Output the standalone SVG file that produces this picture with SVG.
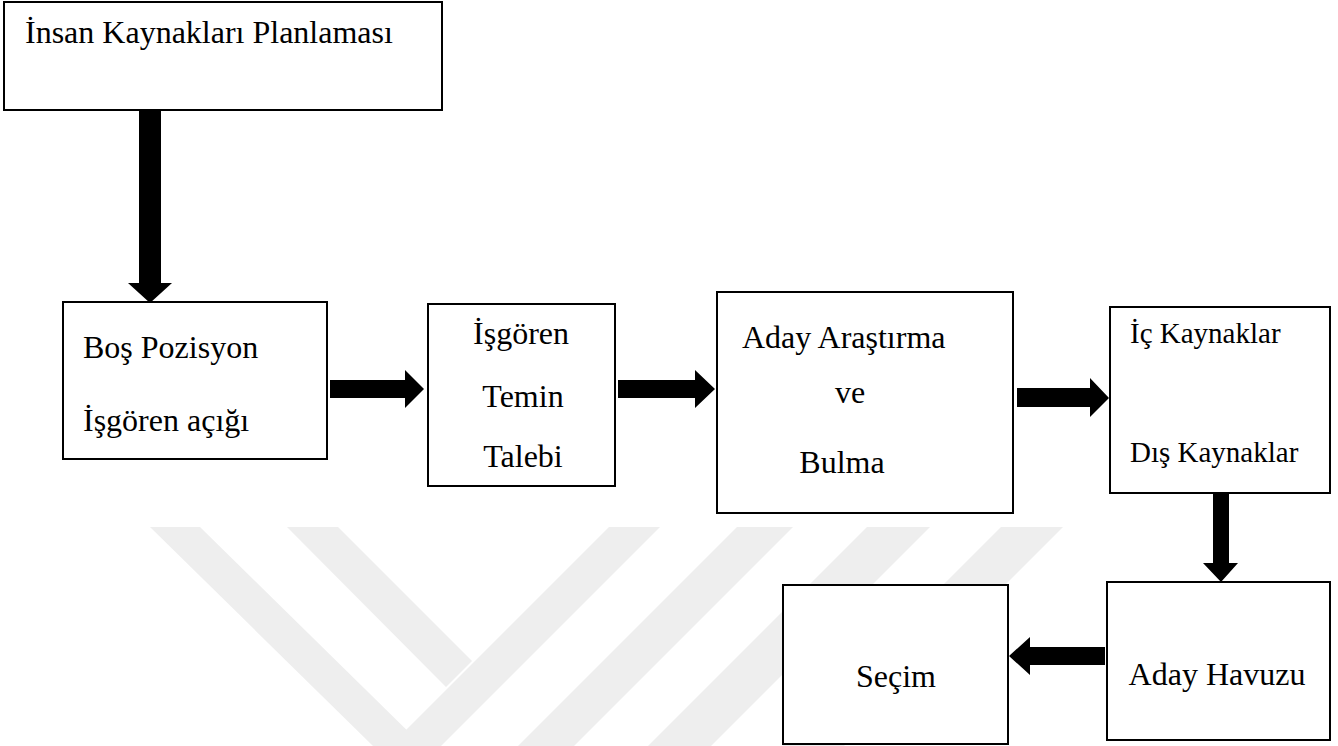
<svg xmlns="http://www.w3.org/2000/svg" width="1338" height="746" viewBox="0 0 1338 746">
  <style>
    .box { fill: #ffffff; stroke: #000000; stroke-width: 2; }
    .lbl { font-family: "Liberation Serif", "Times New Roman", serif; font-size: 32px; fill: #000000; }
    .sm { font-size: 29px; }
    .mid { text-anchor: middle; }
    .arrow { fill: #000000; }
    .wm { fill: #eeeeee; }
  </style>

  <rect x="0" y="0" width="1338" height="746" fill="#ffffff"/>

  <!-- faint diagonal background emblem -->
  <g id="emblem">
    <polygon class="wm" points="150,527 200,527 423,746 373,746"/>
    <polygon class="wm" points="287,527 338,527 472,661 446,687"/>
    <polygon class="wm" points="609,527 660,527 441,746 390,746"/>
    <polygon class="wm" points="737,527 793,527 574,746 518,746"/>
    <polygon class="wm" points="867,527 930,527 711,746 648,746"/>
    <polygon class="wm" points="1001,527 1063,527 844,746 782,746"/>
  </g>

  <!-- block arrows between the steps -->
  <g id="connectors">
    <!-- planning -> vacancy (down) -->
    <polygon class="arrow" points="139,111 161,111 161,283 172,283 150,303 128,283 139,283"/>
    <!-- vacancy -> request -->
    <polygon class="arrow" points="330,380 405,380 405,370 424,389 405,408 405,398 330,398"/>
    <!-- request -> search -->
    <polygon class="arrow" points="618,380 695,380 695,370 715,389 695,408 695,398 618,398"/>
    <!-- search -> sources -->
    <polygon class="arrow" points="1017,388 1090,388 1090,378 1109,398 1090,417 1090,407 1017,407"/>
    <!-- sources -> pool (down) -->
    <polygon class="arrow" points="1213,493 1229,493 1229,563 1238,563 1221,582 1203,563 1213,563"/>
    <!-- pool -> selection (left) -->
    <polygon class="arrow" points="1105,647 1030,647 1030,637 1009,656 1030,675 1030,665 1105,665"/>
  </g>

  <g id="node-planlama">
    <rect class="box" x="4" y="2" width="438" height="108"/>
    <text class="lbl" x="25" y="43">İnsan Kaynakları Planlaması</text>
  </g>

  <g id="node-bos-pozisyon">
    <rect class="box" x="63" y="302" width="264" height="157"/>
    <text class="lbl" x="83" y="358">Boş Pozisyon</text>
    <text class="lbl" x="83" y="431">İşgören açığı</text>
  </g>

  <g id="node-temin-talebi">
    <rect class="box" x="428" y="304" width="187" height="182"/>
    <text class="lbl mid" x="521" y="344">İşgören</text>
    <text class="lbl mid" x="523" y="407">Temin</text>
    <text class="lbl mid" x="523" y="467">Talebi</text>
  </g>

  <g id="node-aday-arastirma">
    <rect class="box" x="717" y="292" width="296" height="221"/>
    <text class="lbl" x="742" y="348">Aday Araştırma</text>
    <text class="lbl mid" x="850" y="403">ve</text>
    <text class="lbl mid" x="842" y="473">Bulma</text>
  </g>

  <g id="node-kaynaklar">
    <rect class="box" x="1110" y="307" width="220" height="186"/>
    <text class="lbl sm" x="1130" y="343">İç Kaynaklar</text>
    <text class="lbl sm" x="1130" y="462">Dış Kaynaklar</text>
  </g>

  <g id="node-aday-havuzu">
    <rect class="box" x="1107" y="582" width="223" height="158"/>
    <text class="lbl mid" x="1217" y="685">Aday Havuzu</text>
  </g>

  <g id="node-secim">
    <rect class="box" x="783" y="585" width="225" height="159"/>
    <text class="lbl mid" x="896" y="687">Seçim</text>
  </g>
</svg>
